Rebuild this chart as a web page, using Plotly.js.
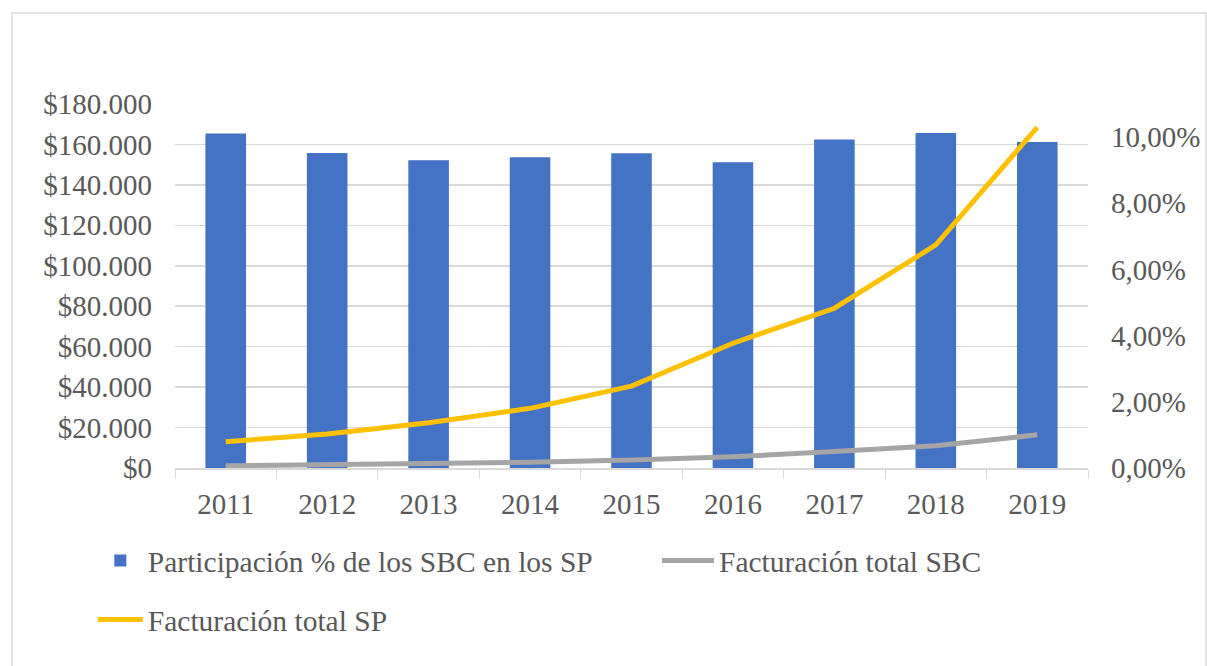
<!DOCTYPE html>
<html>
<head>
<meta charset="utf-8">
<script src="https://cdn.plot.ly/plotly-3.0.1.min.js"></script>
<style>
html,body{margin:0;padding:0;background:#fff;}
#chart{width:1207px;height:666px;}
</style>
</head>
<body>
<div id="chart"></div>
<script>
const years = ['2011','2012','2013','2014','2015','2016','2017','2018','2019'];
const participacion = [0.1011, 0.0952, 0.0930, 0.0939, 0.0951, 0.0924, 0.0993, 0.1012, 0.0985];
const facturacionSBC = [1100, 1500, 2000, 2800, 4000, 5600, 8100, 11000, 16400];
const facturacionSP = [13000, 16800, 22400, 29500, 40500, 61700, 79000, 110300, 168500];
const leftTicks = [0,20000,40000,60000,80000,100000,120000,140000,160000,180000];
const leftTickText = ['$0','$20.000','$40.000','$60.000','$80.000','$100.000','$120.000','$140.000','$160.000','$180.000'];
const rightTicks = [0,0.02,0.04,0.06,0.08,0.10];
const rightTickText = ['0,00%','2,00%','4,00%','6,00%','8,00%','10,00%'];

const fam = '"Liberation Serif", "Times New Roman", Times, serif';
const font = {family: fam, size: 29, color: '#595959'};
const lfont = {family: fam, size: 29.5, color: '#595959'};

const traces = [
  {type:'bar', name:'Participación % de los SBC en los SP', x: years, y: participacion,
   xaxis:'x', yaxis:'y', marker:{color:'#4472C4'}, legend:'legend'},
  {type:'scatter', mode:'lines', name:'Facturación total SBC', x: years, y: facturacionSBC,
   xaxis:'x', yaxis:'y2', line:{color:'#A5A5A5', width:5}, legend:'legend3'},
  {type:'scatter', mode:'lines', name:'Facturación total SP', x: years, y: facturacionSP,
   xaxis:'x', yaxis:'y2', line:{color:'#FFC000', width:5}, legend:'legend2'}
];

const legBase = {orientation:'h', xanchor:'left', yanchor:'top', font:lfont, itemwidth:45, bgcolor:'rgba(0,0,0,0)'};

const layout = {
  width:1207, height:666,
  paper_bgcolor:'#fff', plot_bgcolor:'#fff',
  margin:{l:175, r:119, t:104, b:198},
  font: font,
  bargap: 0.6,
  showlegend: true,
  xaxis:{type:'category', tickson:'boundaries', ticks:'outside', ticklen:9, tickcolor:'#d9d9d9',
         showline:true, linecolor:'#d9d9d9', linewidth:1.5, showgrid:false, tickfont:font,
         ticklabelstandoff: 10},
  yaxis:{side:'right', range:[0,0.11], tickvals:rightTicks, ticktext:rightTickText, showgrid:false,
         zeroline:false, showline:false, tickfont:font, ticklabelstandoff:22},
  yaxis2:{side:'left', overlaying:'y', range:[0,180000], tickvals:leftTicks, ticktext:leftTickText,
          showgrid:true, gridcolor:'#d9d9d9', gridwidth:1.5, zeroline:false,
          tickfont:font, ticklabelstandoff:22},
  legend: Object.assign({}, legBase, {x:-0.09, y:-0.1835}),
  legend3: Object.assign({}, legBase, {x:(657-175)/913, y:-0.1835, itemwidth:52}),
  legend2: Object.assign({}, legBase, {x:-0.09, y:-0.346}),
  shapes:[{type:'rect', xref:'paper', yref:'paper', x0:(12-175)/913, x1:(1206-175)/913,
           y0:-0.6, y1:(468-13)/364, line:{color:'#d9d9d9', width:1.5}, fillcolor:'rgba(0,0,0,0)', layer:'below'}]
};

Plotly.newPlot('chart', traces, layout, {displayModeBar:false, staticPlot:true});
</script>
</body>
</html>
